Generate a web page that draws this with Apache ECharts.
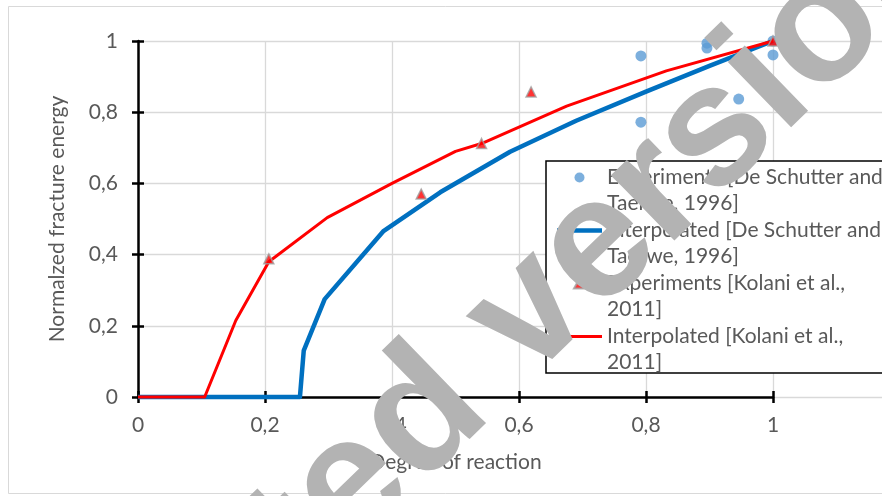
<!DOCTYPE html>
<html>
<head>
<meta charset="utf-8">
<script src="https://cdn.jsdelivr.net/npm/echarts@6/dist/echarts.min.js"></script>
<style>
html,body{margin:0;padding:0;background:#fff;}
#chart{width:882px;height:496px;}
</style>
</head>
<body>
<div id="chart"></div>
<script>
// ---- data ----
const xTicks = [0, 0.2, 0.4, 0.6, 0.8, 1];
const yTicks = [0, 0.2, 0.4, 0.6, 0.8, 1];

const deSchutterExpX = [0.792, 0.792, 0.896, 0.896, 0.946, 1, 1, 1];
const deSchutterExpY = [0.958, 0.772, 0.994, 0.980, 0.837, 0.961, 0.876, 1];

const deSchutterIntX = [0, 0.255, 0.261, 0.294, 0.386, 0.476, 0.586, 0.69, 0.80, 0.90, 1];
const deSchutterIntY = [0, 0, 0.13, 0.275, 0.465, 0.575, 0.689, 0.776, 0.858, 0.93, 1];

const kolaniExpX = [0.206, 0.446, 0.541, 0.619, 1];
const kolaniExpY = [0.388, 0.570, 0.712, 0.857, 1];

const kolaniIntX = [0, 0.105, 0.154, 0.206, 0.298, 0.40, 0.50, 0.541, 0.675, 0.832, 1];
const kolaniIntY = [0, 0, 0.215, 0.38, 0.504, 0.60, 0.69, 0.712, 0.817, 0.916, 1];

const seriesNames = [
  'Experiments [De Schutter and\nTaerwe, 1996]',
  'Interpolated [De Schutter and\nTaerwe, 1996]',
  'Experiments [Kolani et al.,\n2011]',
  'Interpolated [Kolani et al.,\n2011]'
];
const xTitle = 'Degree of reaction';
const yTitle = 'Normalzed fracture energy';
const watermark = 'Accepted version';

const zip = (xs, ys) => xs.map((x, i) => [x, ys[i]]);
const FONT = 'Lato';
const fmt = v => String(Math.round(v * 10) / 10).replace('.', ',');

const chart = echarts.init(document.getElementById('chart'), null, {renderer: 'canvas'});

const axisBlack = {color: '#000', width: 2.5};

chart.setOption({
  animation: false,
  backgroundColor: '#fff',
  textStyle: {fontFamily: FONT},
  grid: [
    {left: 138, top: 41, width: 635, height: 356, containLabel: false},
    {left: 138, top: 41, width: 762, height: 356, containLabel: false}
  ],
  xAxis: [
    {
      gridIndex: 0, type: 'value', min: 0, max: 1, interval: 0.2, position: 'bottom',
      name: xTitle, nameLocation: 'middle', nameGap: 55,
      nameTextStyle: {fontFamily: FONT, fontSize: 21, color: '#595959'},
      axisLine: {show: true, onZero: false, lineStyle: axisBlack},
      axisTick: {show: true, length: 6, lineStyle: axisBlack},
      axisLabel: {show: true, margin: 18, fontFamily: FONT, fontSize: 21, color: '#595959', formatter: fmt},
      splitLine: {show: true, lineStyle: {color: '#d9d9d9', width: 1.3}}
    },
    {
      gridIndex: 0, type: 'value', min: 0, max: 1, interval: 0.2, position: 'bottom', offset: 0,
      axisLine: {show: false},
      axisTick: {show: true, inside: true, length: 6, lineStyle: axisBlack},
      axisLabel: {show: false},
      splitLine: {show: false}
    },
    {
      gridIndex: 1, type: 'value', min: 0, max: 1.2, show: false
    }
  ],
  yAxis: [
    {
      gridIndex: 0, type: 'value', min: 0, max: 1, interval: 0.2, position: 'left',
      name: yTitle, nameLocation: 'middle', nameGap: 70,
      nameTextStyle: {fontFamily: FONT, fontSize: 21, color: '#595959'},
      axisLine: {show: true, onZero: false, lineStyle: axisBlack},
      axisTick: {show: true, length: 6, lineStyle: axisBlack},
      axisLabel: {show: true, margin: 20, fontFamily: FONT, fontSize: 21, color: '#595959', formatter: fmt},
      splitLine: {show: false}
    },
    {
      gridIndex: 0, type: 'value', min: 0, max: 1, interval: 0.2, position: 'left', offset: 0,
      axisLine: {show: false},
      axisTick: {show: true, inside: true, length: 6, lineStyle: axisBlack},
      axisLabel: {show: false},
      splitLine: {show: false}
    },
    {
      gridIndex: 1, type: 'value', min: 0, max: 1, interval: 0.2,
      axisLine: {show: false}, axisTick: {show: false}, axisLabel: {show: false},
      splitLine: {show: true, lineStyle: {color: '#d9d9d9', width: 1.3}}
    }
  ],
  legend: {
    orient: 'vertical',
    left: 546, top: 161,
    itemWidth: 45, itemHeight: 10,
    itemGap: -20,
    padding: [-20, 60, 0, 11],
    borderColor: '#000', borderWidth: 1.5,
    backgroundColor: '#fff',
    data: [
      {name: seriesNames[0]},
      {name: seriesNames[1], icon: 'path://M0,0L45,0L45,4.5L0,4.5Z'},
      {name: seriesNames[2], icon: 'path://M5,0L10,9L0,9Z'},
      {name: seriesNames[3], icon: 'path://M0,0L45,0L45,3L0,3Z'}
    ],
    formatter: name => '{e| }\n{a|' + name.split('\n').join('}\n{a|') + '}',
    textStyle: {
      fontFamily: FONT, fontSize: 21, color: '#595959',
      rich: {
        e: {fontFamily: FONT, fontSize: 21, lineHeight: 26},
        a: {fontFamily: FONT, fontSize: 21, lineHeight: 26, color: '#595959'}
      }
    }
  },
  series: [
    {
      name: seriesNames[0], type: 'scatter', xAxisIndex: 0, yAxisIndex: 0,
      data: zip(deSchutterExpX, deSchutterExpY),
      symbol: 'circle', symbolSize: 11, clip: false, z: 2,
      itemStyle: {color: '#5b9bd5'}
    },
    {
      name: seriesNames[1], type: 'line', xAxisIndex: 0, yAxisIndex: 0,
      data: zip(deSchutterIntX, deSchutterIntY),
      symbol: 'none', showSymbol: false, clip: false, z: 3,
      lineStyle: {color: '#0070c0', width: 4.5, join: 'round'},
      itemStyle: {color: '#0070c0'}
    },
    {
      name: seriesNames[2], type: 'scatter', xAxisIndex: 0, yAxisIndex: 0,
      data: zip(kolaniExpX, kolaniExpY),
      symbol: 'triangle', symbolSize: 10, clip: false, z: 5,
      itemStyle: {color: '#ff0000', borderColor: '#a0a0a0', borderWidth: 1.5}
    },
    {
      name: seriesNames[3], type: 'line', xAxisIndex: 0, yAxisIndex: 0,
      data: zip(kolaniIntX, kolaniIntY),
      symbol: 'none', showSymbol: false, clip: false, z: 4,
      lineStyle: {color: '#ff0000', width: 3, join: 'round'},
      itemStyle: {color: '#ff0000'}
    }
  ],
  graphic: [
    {
      type: 'rect', z: -10, silent: true,
      shape: {x: 8.5, y: 6.5, width: 900, height: 487},
      style: {fill: 'none', stroke: '#d9d9d9', lineWidth: 1}
    },
    {
      type: 'text', z: 100, silent: true,
      x: 420, y: 421, rotation: 0.77,
      style: {
        text: watermark, fontFamily: 'Liberation Sans', fontWeight: 'bold', fontSize: 172,
        fill: '#b3b3b3', align: 'center', verticalAlign: 'middle', blend: 'multiply'
      }
    }
  ]
});
</script>
</body>
</html>
